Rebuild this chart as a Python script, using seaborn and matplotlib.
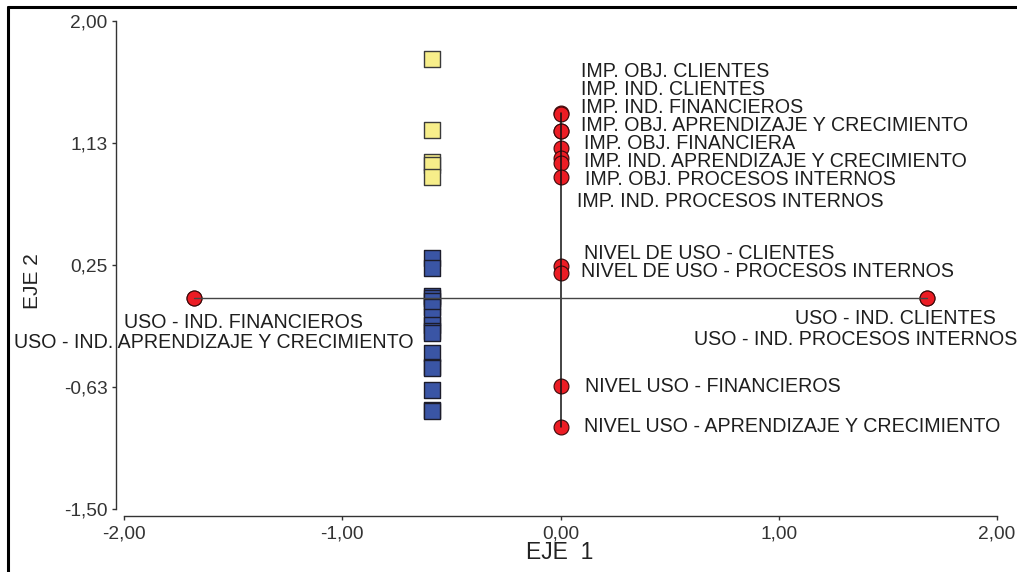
import matplotlib
matplotlib.use("Agg")
import matplotlib.pyplot as plt
from matplotlib.lines import Line2D
import seaborn as sns
import pandas as pd

# Category points (red circles)
cat_names = [
    "IMP. OBJ. CLIENTES", "IMP. IND. CLIENTES", "IMP. IND. FINANCIEROS",
    "IMP. OBJ. APRENDIZAJE Y CRECIMIENTO", "IMP. OBJ. FINANCIERA",
    "IMP. IND. APRENDIZAJE Y CRECIMIENTO", "IMP. OBJ. PROCESOS INTERNOS",
    "IMP. IND. PROCESOS INTERNOS",
    "NIVEL DE USO - CLIENTES", "NIVEL DE USO - PROCESOS INTERNOS",
    "NIVEL USO - FINANCIEROS", "NIVEL USO - APRENDIZAJE Y CRECIMIENTO",
    "USO - IND. FINANCIEROS", "USO - IND. APRENDIZAJE Y CRECIMIENTO",
    "USO - IND. CLIENTES", "USO - IND. PROCESOS INTERNOS",
]
cat_x = [0.0, 0.0, 0.0, 0.0, 0.0, 0.0, 0.0, 0.0,
         0.0, 0.0, 0.0, 0.0,
         -1.68, -1.68, 1.68, 1.68]
cat_y = [1.34, 1.33, 1.21, 1.21, 1.09, 1.02, 0.98, 0.88,
         0.24, 0.19, -0.62, -0.91,
         0.01, 0.01, 0.01, 0.01]

# Object scores (squares)
high_x = [-0.59, -0.59, -0.59, -0.59, -0.59]
high_y = [1.73, 1.22, 0.99, 0.97, 0.88]
low_x = [-0.59] * 16
low_y = [0.30, 0.23, 0.03, 0.01, -0.01, -0.05, -0.12, -0.18, -0.22, -0.24,
         -0.38, -0.48, -0.49, -0.65, -0.79, -0.80]

# Label anchor positions (axis units)
lab_x = [0.094, 0.094, 0.094, 0.094, 0.108, 0.108, 0.112, 0.076,
         0.108, 0.094, 0.112, 0.108,
         -2.0, -2.504, 1.074, 0.612]
lab_y = [1.641, 1.512, 1.383, 1.247, 1.125, 0.989, 0.860, 0.709,
         0.329, 0.200, -0.625, -0.905,
         -0.159, -0.309, -0.137, -0.281]

x_ticks = [-2.0, -1.0, 0.0, 1.0, 2.0]
x_ticklabels = ["-2,00", "-1,00", "0,00", "1,00", "2,00"]
y_ticks = [2.0, 1.125, 0.25, -0.625, -1.5]
y_ticklabels = ["2,00", "1,13", "0,25", "-0,63", "-1,50"]

sns.set_theme(style="white")
plt.rcParams["font.family"] = ["Liberation Sans", "DejaVu Sans"]

W, H = 1017, 572
fig = plt.figure(figsize=(W / 100, H / 100), dpi=100)
ax = fig.add_axes([124 / W, 1 - 509 / H, (997 - 124) / W, (509 - 21) / H])

df_hi = pd.DataFrame({"x": high_x, "y": high_y})
df_lo = pd.DataFrame({"x": low_x, "y": low_y})
df_cat = pd.DataFrame({"x": cat_x, "y": cat_y, "name": cat_names})

sns.scatterplot(data=df_hi, x="x", y="y", ax=ax, marker="s", s=125,
                color="#F7EE8A", edgecolor="#3a3a3a", linewidth=1.0, zorder=3)
sns.scatterplot(data=df_lo, x="x", y="y", ax=ax, marker="s", s=125,
                color="#3A55A5", edgecolor="#1c1c2a", linewidth=1.0, zorder=3)
sns.scatterplot(data=df_cat, x="x", y="y", ax=ax, marker="o", s=115,
                color="#EC1C24", edgecolor="#3a0a0a", linewidth=0.8, zorder=4)

# Connecting lines through the category points
vert = df_cat[df_cat["x"] == 0.0].sort_values("y")
horiz = df_cat[df_cat["x"] != 0.0].sort_values("x")
ax.plot(vert["x"], vert["y"], color="#111111", lw=1.1, zorder=5)
ax.plot(horiz["x"], horiz["y"], color="#444444", lw=1.0, zorder=5)

for name, tx, ty in zip(cat_names, lab_x, lab_y):
    ax.text(tx, ty, name, fontsize=14.1, color="#1e1e1e", ha="left",
            va="center", clip_on=False)

ax.set_xlim(-2.0, 2.0)
ax.set_ylim(-1.5, 2.0)
ax.set_xticks(x_ticks)
ax.set_xticklabels(x_ticklabels)
ax.set_yticks(y_ticks)
ax.set_yticklabels(y_ticklabels)
ax.tick_params(axis="both", labelsize=13.8, colors="#333333", length=3,
               width=1.0, direction="out")
ax.tick_params(axis="x", pad=4, bottom=True)
ax.tick_params(axis="y", pad=3, left=True)

sns.despine(ax=ax)
ax.spines["left"].set_position(("outward", 5.8))
ax.spines["bottom"].set_position(("outward", 5.0))
for side in ("left", "bottom"):
    ax.spines[side].set_color("#333333")
    ax.spines[side].set_linewidth(1.0)

ax.set_xlabel("EJE  1", fontsize=16.5, color="#222222")
ax.set_ylabel("EJE 2", fontsize=15, color="#222222")
ax.xaxis.set_label_coords(0.499, -0.066)
ax.yaxis.set_label_coords(-0.094, 0.467)

# Page frame
fig.add_artist(Line2D([8 / W, 8 / W], [0, 1 - 7 / H], transform=fig.transFigure,
                      color="black", lw=2.2))
fig.add_artist(Line2D([8 / W, 1], [1 - 7 / H, 1 - 7 / H], transform=fig.transFigure,
                      color="black", lw=2.2))

fig.savefig("out.png", dpi=100, facecolor="white")
